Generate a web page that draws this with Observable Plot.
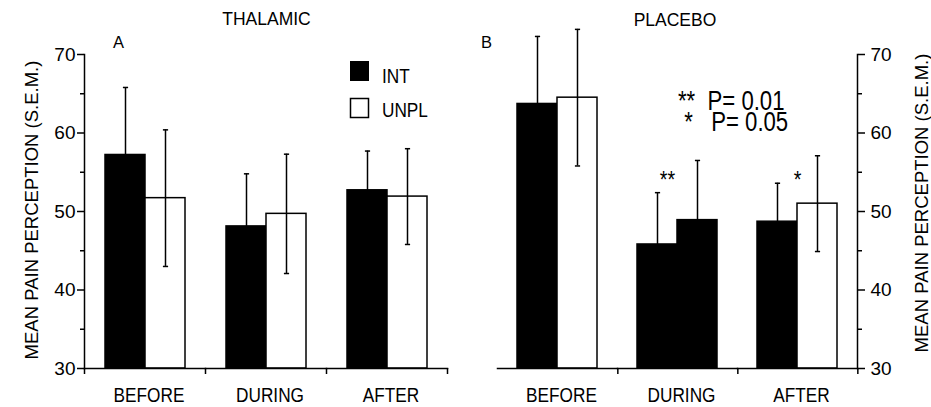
<!DOCTYPE html>
<html><head><meta charset="utf-8">
<script src="https://cdn.jsdelivr.net/npm/d3@7"></script>
<script src="https://cdn.jsdelivr.net/npm/@observablehq/plot@0.6"></script>
<style>
body{margin:0;background:#fff;}
#wrap{position:relative;width:931px;height:407px;overflow:hidden;background:#fff;}
#wrap > svg{position:absolute;top:0;margin:0;overflow:visible;}
#sigkey{position:absolute;left:678px;top:90.6px;margin:0;font-family:'Liberation Sans',Arial,Helvetica,sans-serif;
  font-size:27px;line-height:21px;white-space:pre;color:#000;transform:scaleX(0.82);transform-origin:0 0;z-index:3;}
</style></head>
<body><div id="wrap"></div>
<script>
// ---- data ----
const periods = ["BEFORE", "DURING", "AFTER"];
const groups = ["INT", "UNPL"];
const barPeriod = ["BEFORE", "BEFORE", "DURING", "DURING", "AFTER", "AFTER"];
const barGroup = ["INT", "UNPL", "INT", "UNPL", "INT", "UNPL"];
const thalamicMean = [57.2, 51.7, 48.1, 49.7, 52.7, 51.9];
const thalamicSem = [8.6, 8.7, 6.7, 7.6, 5.0, 6.1];
const placeboMean = [63.7, 64.5, 45.8, 48.9, 48.7, 51.0];
const placeboSem = [8.6, 8.7, 6.6, 7.6, 4.9, 6.1];
const yTicks = [30, 40, 50, 60, 70];
const yMinorTicks = [35, 45, 55, 65];
const panelTitles = ["THALAMIC", "PLACEBO"];
const panelLetters = ["A", "B"];
const yTitle = "MEAN PAIN PERCEPTION (S.E.M.)";
const sigStars = ["**", "*"];
const sigText = ["P= 0.01", "P= 0.05"];
const sigPeriods = ["DURING", "AFTER"];
const sigGroups = ["INT", "INT"];
const sigY = [54.0, 54.0];

const SANS = "'Liberation Sans', Arial, Helvetica, sans-serif";
const NARROW_FACTOR = 0.82; // the figure's lettering is a condensed sans
const H = 407, MT = 54, MB = 39;

const capSymbol = {draw(ctx, size) { const w = Math.sqrt(size / Math.PI); ctx.moveTo(-w, 0); ctx.lineTo(w, 0); }};

function condense(nodes, f = NARROW_FACTOR) {
  nodes.forEach(n => {
    const L = n.getComputedTextLength();
    if (L > 0) { n.setAttribute("textLength", (L * f).toFixed(2)); n.setAttribute("lengthAdjust", "spacingAndGlyphs"); }
  });
}

function panel({mean, sem, side, width, marginLeft, marginRight, solid, sig}) {
  const data = barPeriod.map((p, i) => ({period: p, group: barGroup[i], mean: mean[i], sem: sem[i]}));
  const base = yTicks[0];
  const step = (width - marginLeft - marginRight) / periods.length;
  const fill = d => (d.group === groups[0] || (solid && solid(d))) ? "black" : "white";
  const marks = [
    Plot.barY(data, {fx: "period", x: "group", y1: () => base, y2: "mean", fill, stroke: "black", strokeWidth: 1.5}),
    Plot.ruleX(data, {fx: "period", x: "group", y1: d => d.mean - d.sem, y2: d => d.mean + d.sem, stroke: "black", strokeWidth: 1.5}),
    Plot.dot(data, {fx: "period", x: "group", y: d => d.mean + d.sem, symbol: capSymbol, r: 2.6, stroke: "black", strokeWidth: 1.5, fill: "none"}),
    Plot.dot(data, {fx: "period", x: "group", y: d => d.mean - d.sem, symbol: capSymbol, r: 2.6, stroke: "black", strokeWidth: 1.5, fill: "none"}),
    Plot.frame({anchor: "bottom", stroke: "black", strokeWidth: 1.5}),
    Plot.frame({anchor: side, facetAnchor: side, stroke: "black", strokeWidth: 1.5}),
    Plot.axisY({anchor: side, ticks: yTicks, tickSize: 7, tickPadding: side === "left" ? 2 : 6, fontSize: 19, fontFamily: SANS, strokeWidth: 1.5, label: null}),
    Plot.axisY({anchor: side, ticks: yMinorTicks, tickSize: 4, text: null, strokeWidth: 1.5, label: null}),
    Plot.axisFx({anchor: "bottom", tickSize: 0, tickPadding: 19, dx: 4, fontSize: 21, fontFamily: SANS, label: null}),
    Plot.axisFx({anchor: "bottom", tickSize: 6, text: null, dx: step / 2, strokeWidth: 1.5, label: null})
  ];
  if (side === "left") marks.push(Plot.axisFx({anchor: "bottom", ticks: [periods[0]], tickSize: 6, text: null, dx: -step / 2, strokeWidth: 1.5, label: null}));
  if (sig) {
    const sd = sigStars.map((s, i) => ({period: sigPeriods[i], group: sigGroups[i], label: s, y: sigY[i]}));
    marks.push(Plot.text(sd.slice(0, 1), {fx: "period", x: "group", y: "y", text: "label", dx: 10, fontSize: 24, fontFamily: SANS, fill: "black"}));
    marks.push(Plot.text(sd.slice(1), {fx: "period", x: "group", y: "y", text: "label", dx: 20, fontSize: 24, fontFamily: SANS, fill: "black"}));
  }
  return Plot.plot({
    width, height: H, marginLeft, marginRight, marginTop: MT, marginBottom: MB,
    style: {fontFamily: SANS, background: "white", color: "black", overflow: "visible"},
    fx: {domain: periods, padding: 0, label: null},
    x: {domain: groups, paddingInner: 0, paddingOuter: 0.49, axis: null},
    y: {domain: [yTicks[0], yTicks[yTicks.length - 1]], label: null},
    marks
  });
}

const wrap = document.getElementById("wrap");
const left = panel({mean: thalamicMean, sem: thalamicSem, side: "left", width: 460, marginLeft: 84, marginRight: 13});
left.style.left = "0px";
wrap.appendChild(left);
const right = panel({mean: placeboMean, sem: placeboSem, side: "right", width: 471, marginLeft: 36, marginRight: 73,
  solid: d => d.period === periods[1], sig: true});
right.style.left = "460px";
wrap.appendChild(right);

// condense the category labels and the star marks drawn by Plot
[left, right].forEach(svg => {
  const nodes = Array.from(svg.querySelectorAll("text")).filter(n => periods.includes(n.textContent) || sigStars.includes(n.textContent));
  condense(nodes);
});

// ---- overlay annotations (titles, panel letters, legend, axis titles) ----
const ov = d3.select(wrap).append("svg").attr("width", 931).attr("height", H)
  .style("position", "absolute").style("left", "0px").style("top", "0px").style("pointer-events", "none");
const t = (x, y, s, size, anchor = "start") => ov.append("text").attr("x", x).attr("y", y)
  .attr("font-size", size).attr("font-family", SANS).attr("text-anchor", anchor).attr("fill", "black").text(s);
t(266.5, 25, panelTitles[0], 17.5, "middle");
t(675, 26, panelTitles[1], 17.5, "middle");
t(113, 48, panelLetters[0], 16.5);
t(481, 48, panelLetters[1], 16.5);
// legend
ov.append("rect").attr("x", 350.5).attr("y", 61.5).attr("width", 18).attr("height", 19).attr("fill", "black").attr("stroke", "black");
ov.append("rect").attr("x", 350.5).attr("y", 98.5).attr("width", 18).attr("height", 19).attr("fill", "white").attr("stroke", "black").attr("stroke-width", 1.5);
condense([t(382, 83, groups[0], 21).node(), t(382, 116.5, groups[1], 21).node()]);
// y titles
ov.append("text").attr("transform", "translate(31.5,210) rotate(-90)").attr("text-anchor", "middle")
  .attr("dominant-baseline", "central").attr("font-size", 18.5).attr("font-family", SANS).text(yTitle);
ov.append("text").attr("transform", "translate(921,203) rotate(-90)").attr("text-anchor", "middle")
  .attr("dominant-baseline", "central").attr("font-size", 18.5).attr("font-family", SANS).text(yTitle);

// significance key: one two-line block
const keyDiv = document.createElement("div");
keyDiv.id = "sigkey";
keyDiv.textContent = sigStars[0] + "  " + sigText[0] + "\n " + sigStars[1] + "   " + sigText[1];
wrap.appendChild(keyDiv);
</script>
</body></html>
